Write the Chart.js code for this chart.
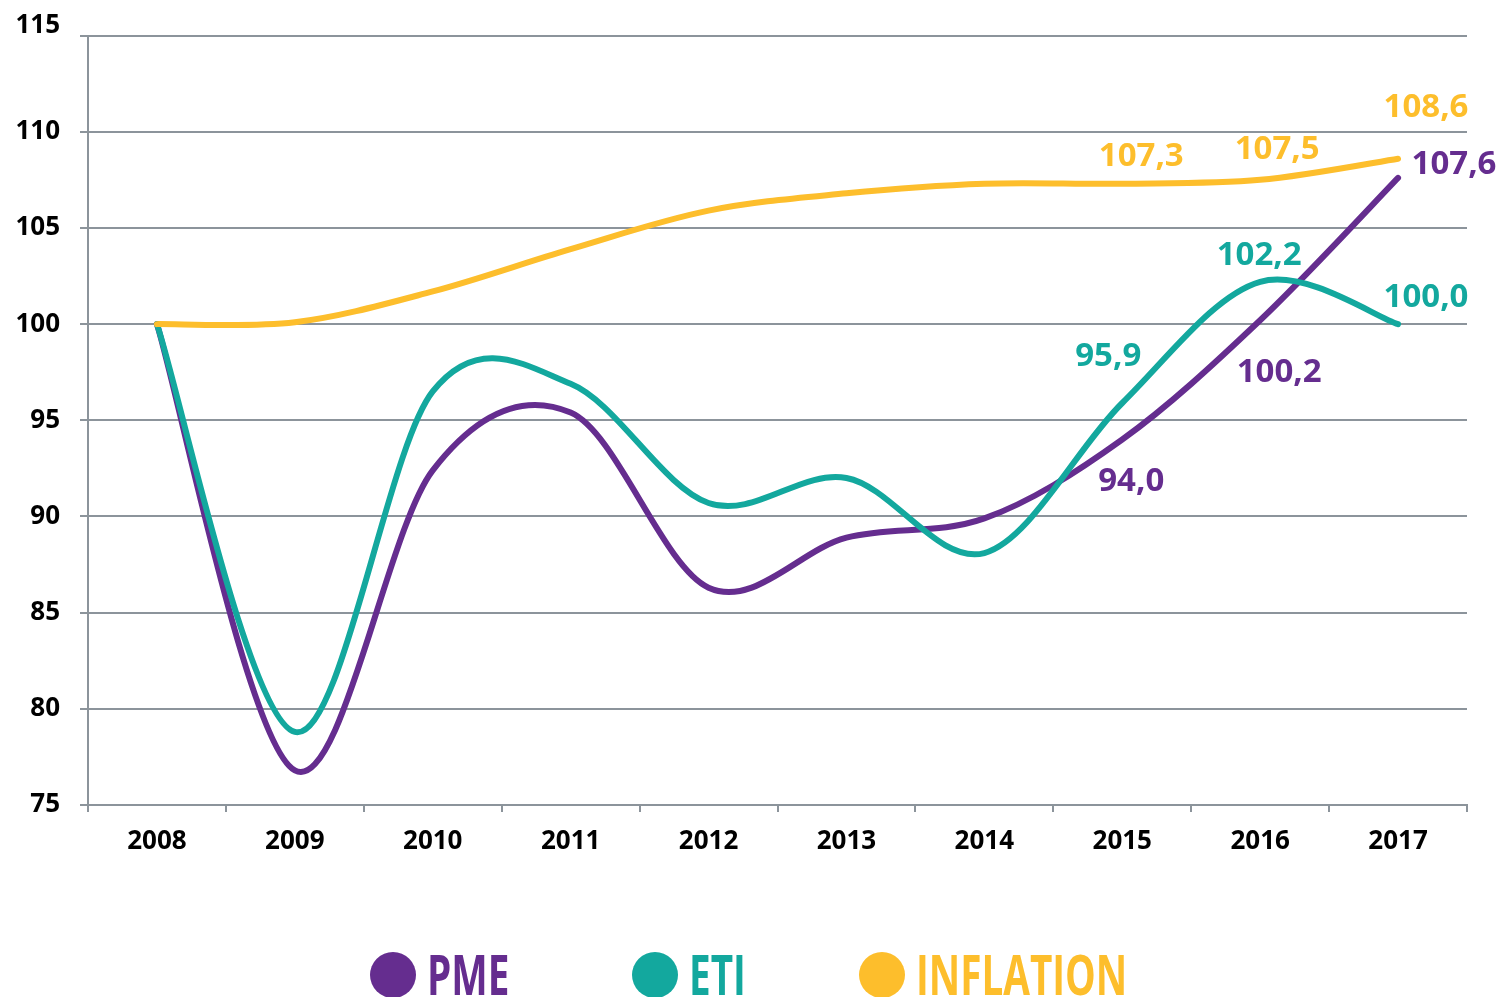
<!DOCTYPE html>
<html>
<head>
<meta charset="utf-8">
<script src="https://cdn.jsdelivr.net/npm/chart.js@4"></script>
<style>
html,body{margin:0;padding:0;background:#fff;overflow:hidden}
#wrap{position:relative;width:1501px;height:997px}
</style>
</head>
<body>
<div id="wrap"><canvas id="c" width="1501" height="997"></canvas></div>
<script>
// ---- data ----
const years = ['2008','2009','2010','2011','2012','2013','2014','2015','2016','2017'];
const pme       = [100.0, 76.8, 92.4, 95.4, 86.3, 88.9, 89.9, 94.0, 100.2, 107.6];
const eti       = [100.0, 78.8, 96.5, 96.9, 90.7, 92.0, 88.1, 95.9, 102.2, 100.0];
const inflation = [100.0, 100.1, 101.7, 103.9, 105.9, 106.8, 107.3, 107.3, 107.5, 108.6];
const seriesNames = ['PME', 'ETI', 'INFLATION'];
const yMin = 75, yMax = 115, yStep = 5;

// ---- style ----
const colors = ['#652d8f', '#13a89e', '#fdbe2c'];
const drawOrder = [2, 1, 0];
// which values are written on the chart, and where relative to their point
const valueLabels = [
  {s: 2, i: 7, dx: 19, dy: -27},
  {s: 2, i: 8, dx: 17, dy: -30},
  {s: 2, i: 9, dx: 28, dy: -51},
  {s: 0, i: 7, dx: 9,  dy: 42},
  {s: 0, i: 8, dx: 19, dy: 52},
  {s: 0, i: 9, dx: 56, dy: -13},
  {s: 1, i: 7, dx: -14, dy: -46},
  {s: 1, i: 8, dx: -1, dy: -26},
  {s: 1, i: 9, dx: 28, dy: -27}
];
const legendCircleX = [393, 655, 882];
const legendY = 975;
const tickFont = {family: 'Open Sans', weight: 'bold', size: 26};

const seriesValues = [pme, eti, inflation];
const fmt = v => v.toFixed(1).replace('.', ',');

// Excel-like smoothing: uniform Catmull-Rom control points
const smoothPlugin = {
  id: 'smooth',
  beforeDatasetDraw(chart, args) {
    const meta = args.meta;
    const line = meta.dataset;
    if (!line) return;
    line.updateControlPoints(chart.chartArea, meta.iScale.axis);
    const pts = meta.data, n = pts.length;
    for (let i = 0; i < n; i++) {
      const p = pts[i];
      const prev = pts[Math.max(i - 1, 0)];
      const next = pts[Math.min(i + 1, n - 1)];
      const tx = (next.x - prev.x) / 6, ty = (next.y - prev.y) / 6;
      p.cp1x = p.x - tx; p.cp1y = p.y - ty;
      p.cp2x = p.x + tx; p.cp2y = p.y + ty;
    }
    line._path = undefined;
  }
};

const valueLabelPlugin = {
  id: 'valueLabels',
  afterDatasetsDraw(chart) {
    const ctx = chart.ctx;
    ctx.save();
    ctx.font = 'bold 33px "Open Sans"';
    ctx.textAlign = 'center';
    ctx.textBaseline = 'middle';
    valueLabels.forEach(l => {
      const pt = chart.getDatasetMeta(l.s).data[l.i];
      ctx.fillStyle = colors[l.s];
      ctx.fillText(fmt(seriesValues[l.s][l.i]), pt.x + l.dx, pt.y + l.dy);
    });
    ctx.restore();
  }
};

// top y label sits a little above its gridline in the reference
const topTickPlugin = {
  id: 'topTick',
  afterDraw(chart) {
    const y = chart.scales.y;
    const ctx = chart.ctx;
    ctx.save();
    ctx.font = 'bold 26px "Open Sans"';
    ctx.fillStyle = '#000';
    ctx.textAlign = 'right';
    ctx.textBaseline = 'middle';
    ctx.fillText(String(yMax), y.right - 8 - 20, y.getPixelForValue(yMax) - 10);
    ctx.restore();
  }
};

const legendPlugin = {
  id: 'bigLegend',
  afterDraw(chart) {
    const ctx = chart.ctx;
    ctx.save();
    chart.data.datasets.forEach((ds, k) => {
      const cx = legendCircleX[k];
      ctx.fillStyle = ds.borderColor;
      ctx.beginPath();
      ctx.arc(cx, legendY, 23, 0, Math.PI * 2);
      ctx.fill();
      ctx.save();
      ctx.translate(cx + 34, legendY + 20);
      ctx.scale(0.69, 1);
      ctx.font = 'bold 56px "Open Sans"';
      ctx.textBaseline = 'alphabetic';
      ctx.textAlign = 'left';
      ctx.fillText(ds.label, 0, 0);
      ctx.restore();
    });
    ctx.restore();
  }
};

new Chart(document.getElementById('c'), {
  type: 'line',
  data: {
    labels: years,
    datasets: seriesValues.map((vals, k) => ({
      label: seriesNames[k],
      data: vals,
      borderColor: colors[k],
      backgroundColor: colors[k],
      borderWidth: 6,
      borderCapStyle: 'round',
      borderJoinStyle: 'round',
      pointRadius: 0,
      pointHoverRadius: 0,
      tension: 0.33,
      fill: false,
      order: drawOrder[k]
    }))
  },
  options: {
    responsive: false,
    animation: false,
    layout: {padding: {left: 0, right: 34, top: 35, bottom: 132}},
    plugins: {legend: {display: false}, tooltip: {enabled: false}},
    scales: {
      x: {
        offset: true,
        grid: {offset: true, drawOnChartArea: false, drawTicks: true, tickLength: 7, color: '#8c949b', lineWidth: 2},
        border: {display: true, color: '#8c949b', width: 2},
        ticks: {color: '#000', font: tickFont, padding: 14, maxRotation: 0},
        afterFit: s => { s.height = 60; }
      },
      y: {
        min: yMin, max: yMax,
        grid: {color: '#8c949b', lineWidth: 2, tickLength: 8},
        border: {display: true, color: '#8c949b', width: 2},
        ticks: {stepSize: yStep, color: '#000', font: tickFont, padding: 20,
                callback: v => (v === yMax ? '' : v)},
        afterFit: s => { s.width = 88; }
      }
    }
  },
  plugins: [smoothPlugin, valueLabelPlugin, topTickPlugin, legendPlugin]
});
</script>
</body>
</html>
